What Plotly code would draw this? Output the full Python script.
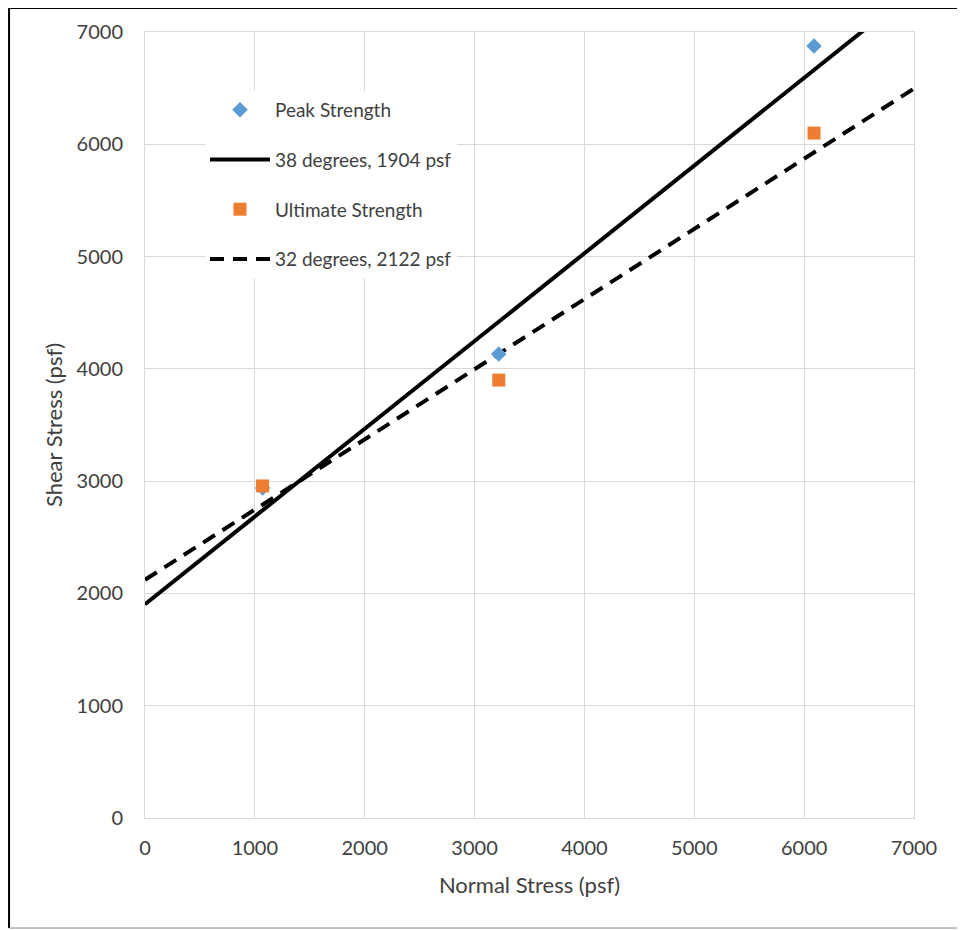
import plotly.graph_objects as go

peak_x = [1070, 3220, 6090]
peak_y = [2940, 4132, 6875]
ult_x = [1070, 3220, 6090]
ult_y = [2957, 3900, 6100]

fit38_x = [0, 7000]
fit38_y = [1904, 7373]
fit32_x = [0, 7000]
fit32_y = [2122, 6496]

names = ["Peak Strength", "38 degrees, 1904 psf", "Ultimate Strength", "32 degrees, 2122 psf"]
font = "Lato, 'Noto Sans', sans-serif"

fig = go.Figure()
fig.add_trace(go.Scatter(x=fit38_x, y=fit38_y, mode="lines", name=names[1],
                         line=dict(color="black", width=4), legendrank=2, legendgroup="b"))
fig.add_trace(go.Scatter(x=fit32_x, y=fit32_y, mode="lines", name=names[3],
                         line=dict(color="black", width=4, dash="14px,9px"), legendrank=4, legendgroup="d"))
fig.add_trace(go.Scatter(x=peak_x, y=peak_y, mode="markers", name=names[0],
                         marker=dict(symbol="diamond", color="#5B9BD5", size=12), legendrank=1, legendgroup="a"))
fig.add_trace(go.Scatter(x=ult_x, y=ult_y, mode="markers", name=names[2],
                         marker=dict(symbol="square", color="#ED7D31", size=13), legendrank=3, legendgroup="c"))

axis_common = dict(range=[0, 7000], dtick=1000, showgrid=True, gridcolor="#D9D9D9", gridwidth=1,
                   zeroline=False, showline=True, linecolor="#D9D9D9", linewidth=1, mirror=True,
                   tickfont=dict(family=font, size=20, color="#404040"), ticks="")

fig.update_xaxes(**axis_common, ticklabelstandoff=12,
                 title=dict(text="Normal Stress (psf)", font=dict(family=font, size=22, color="#404040"), standoff=19))
fig.update_yaxes(**axis_common, ticklabelstandoff=17,
                 title=dict(text="Shear Stress (psf)", font=dict(family=font, size=22, color="#404040"), standoff=7))

fig.update_layout(
    width=957, height=922,
    margin=dict(l=137, r=51, t=24, b=112),
    plot_bgcolor="white", paper_bgcolor="white",
    showlegend=True,
    legend=dict(x=0.078, y=0.925, xanchor="left", yanchor="top", bgcolor="white",
                font=dict(family=font, size=19, color="#404040"), tracegroupgap=22,
                traceorder="grouped", itemwidth=60),
    shapes=[
        dict(type="rect", xref="x", yref="y", x0=364, x1=3058, y0=4836, y1=6501,
             fillcolor="white", line=dict(width=0), layer="below"),
        dict(type="line", xref="paper", yref="paper", x0=-0.1768, x1=-0.1768, y0=-0.14, y1=1.0305, line=dict(color="black", width=2)),
        dict(type="line", xref="paper", yref="paper", x0=-0.1768, x1=1.0637, y0=1.0305, y1=1.0305, line=dict(color="black", width=2)),
        dict(type="line", xref="paper", yref="paper", x0=1.0637, x1=1.0637, y0=-0.14, y1=1.0305, line=dict(color="#888888", width=1)),
        dict(type="line", xref="paper", yref="paper", x0=-0.1768, x1=1.0637, y0=-0.14, y1=-0.14, line=dict(color="#888888", width=1)),
    ],
)

fig.write_html("out.html")
